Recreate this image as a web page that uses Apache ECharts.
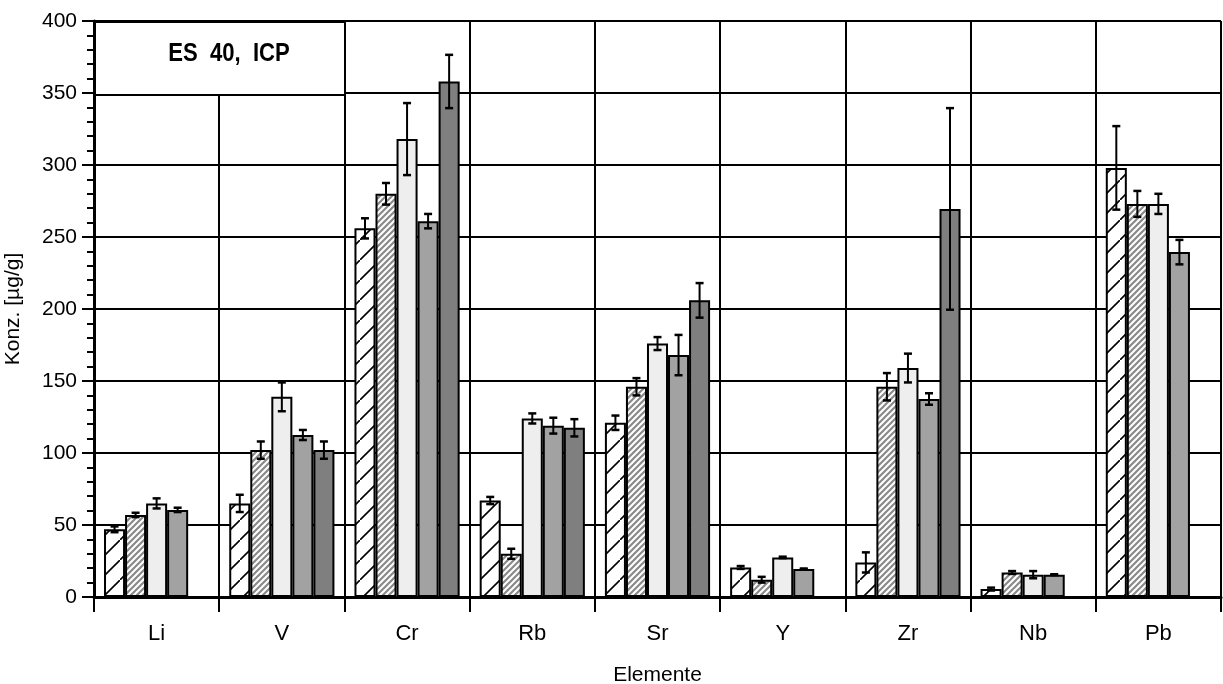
<!DOCTYPE html>
<html>
<head>
<meta charset="utf-8">
<script src="https://cdn.jsdelivr.net/npm/echarts@6/dist/echarts.min.js"></script>
<style>
html,body{margin:0;padding:0;background:#fff;}
#c{width:1223px;height:684px;}
</style>
</head>
<body>
<div id="c"></div>
<script>
const categories = ['Li', 'V', 'Cr', 'Rb', 'Sr', 'Y', 'Zr', 'Nb', 'Pb'];
const s1 = [47, 65, 256, 67, 121, 20.5, 24, 5.5, 298];
const s1err = [2, 6, 7, 2.5, 5, 1, 7, 1, 29];
const s2 = [57, 102, 280, 30, 146, 12, 146, 17, 273];
const s2err = [1.5, 6, 7.5, 3.5, 6, 2, 9.5, 1, 9];
const s3 = [65, 139, 318, 124, 176, 27.5, 159, 15.5, 273];
const s3err = [3.5, 10, 25, 3.5, 4.5, 0.5, 10, 2.5, 7];
const s4 = [60.5, 112.5, 261, 119, 168, 19.5, 137.5, 15.5, 239.5];
const s4err = [1.5, 3.5, 5, 5.5, 14, 0.3, 4, 0.3, 8.5];
const s5 = [null, 102, 358, 117.5, 206, null, 269.5, null, null];
const s5err = [null, 6, 18.5, 6, 12, null, 70, null, null];
const yTicks = [0, 50, 100, 150, 200, 250, 300, 350, 400];
const title = 'ES  40,  ICP';
const xName = 'Elemente';
const yName = 'Konz. [µg/g]';

function hatchWide() {
  const c = document.createElement('canvas');
  c.width = 20; c.height = 20;
  const g = c.getContext('2d');
  g.fillStyle = '#fff'; g.fillRect(0, 0, 20, 20);
  g.strokeStyle = '#000'; g.lineWidth = 1.6;
  g.beginPath();
  g.moveTo(-4, 24); g.lineTo(24, -4);
  g.stroke();
  return c;
}
function hatchDense() {
  const c = document.createElement('canvas');
  c.width = 6; c.height = 6;
  const g = c.getContext('2d');
  g.fillStyle = '#fff'; g.fillRect(0, 0, 6, 6);
  g.strokeStyle = '#8a8a8a'; g.lineWidth = 2.2;
  g.beginPath();
  g.moveTo(-2, 8); g.lineTo(8, -2);
  g.moveTo(-5, 5); g.lineTo(5, -5);
  g.moveTo(1, 11); g.lineTo(11, 1);
  g.stroke();
  return c;
}

const fills = [
  {image: hatchWide(), repeat: 'repeat'},
  {image: hatchDense(), repeat: 'repeat'},
  '#eeeeee',
  '#a2a2a2',
  '#7f7f7f'
];
const vals = [s1, s2, s3, s4, s5];
const errs = [s1err, s2err, s3err, s4err, s5err];
const N = vals.length;
const GAP = 0.16;

const series = [];
vals.forEach((v, si) => {
  series.push({
    type: 'bar', name: 'S' + (si + 1), data: v,
    barGap: '0%', barCategoryGap: (GAP * 100) + '%',
    itemStyle: {color: fills[si], borderColor: '#000', borderWidth: 2},
    z: 2, silent: true
  });
});
vals.forEach((v, si) => {
  const d = [];
  v.forEach((val, i) => { if (val != null && errs[si][i] != null) d.push([i, val - errs[si][i], val + errs[si][i]]); });
  series.push({
    type: 'custom', data: d, z: 5, silent: true,
    encode: {x: 0, y: [1, 2]},
    renderItem: function (params, api) {
      const idx = api.value(0);
      const lo = api.coord([idx, api.value(1)]);
      const hi = api.coord([idx, api.value(2)]);
      const band = api.size([1, 0])[0];
      const bw = band * (1 - GAP) / N;
      const x = lo[0] + (si - (N - 1) / 2) * bw;
      const cw = 4;
      const st = {stroke: '#000', lineWidth: 2};
      return {type: 'group', children: [
        {type: 'line', shape: {x1: x, y1: lo[1], x2: x, y2: hi[1]}, style: st},
        {type: 'line', shape: {x1: x - cw, y1: lo[1], x2: x + cw, y2: lo[1]}, style: {stroke: '#000', lineWidth: 2.5}},
        {type: 'line', shape: {x1: x - cw, y1: hi[1], x2: x + cw, y2: hi[1]}, style: {stroke: '#000', lineWidth: 2.5}}
      ]};
    }
  });
});

const chart = echarts.init(document.getElementById('c'), null, {renderer: 'canvas'});
const FONT = '"Liberation Sans", Arial, sans-serif';
chart.setOption({
  animation: false,
  backgroundColor: '#fff',
  grid: {left: 94, right: 2, top: 21, bottom: 87, containLabel: false, outerBoundsMode: 'none'},
  xAxis: {
    type: 'category', data: categories, boundaryGap: true,
    name: xName, nameLocation: 'middle', nameGap: 68,
    nameTextStyle: {fontFamily: FONT, fontSize: 21, color: '#000'},
    axisLine: {show: true, lineStyle: {color: '#000', width: 3}},
    axisTick: {show: true, length: 15, lineStyle: {color: '#000', width: 2}},
    axisLabel: {fontFamily: FONT, fontSize: 22, color: '#000', margin: 26},
    splitLine: {show: true, lineStyle: {color: '#000', width: 2}}
  },
  yAxis: {
    type: 'value', min: yTicks[0], max: yTicks[yTicks.length - 1], interval: yTicks[1] - yTicks[0],
    name: yName, nameLocation: 'middle', nameGap: 70,
    nameTextStyle: {fontFamily: FONT, fontSize: 21, color: '#000'},
    axisLine: {show: true, lineStyle: {color: '#000', width: 3}},
    axisTick: {show: true, length: 12, lineStyle: {color: '#000', width: 2}},
    minorTick: {show: true, splitNumber: 5, length: 7, lineStyle: {color: '#000', width: 2}},
    axisLabel: {fontFamily: FONT, fontSize: 21, color: '#000', margin: 17},
    splitLine: {show: true, lineStyle: {color: '#000', width: 2}}
  },
  graphic: [
    {type: 'rect', left: 94, top: 21, z: 100,
     shape: {width: 250, height: 73},
     style: {fill: '#fff', stroke: '#000', lineWidth: 2}},
    {type: 'text', x: 229, y: 54, z: 101, scaleX: 0.85,
     style: {text: title, font: 'bold 26px ' + FONT, fill: '#000', textAlign: 'center', textVerticalAlign: 'middle'}}
  ],
  series: series
});
</script>
</body>
</html>
